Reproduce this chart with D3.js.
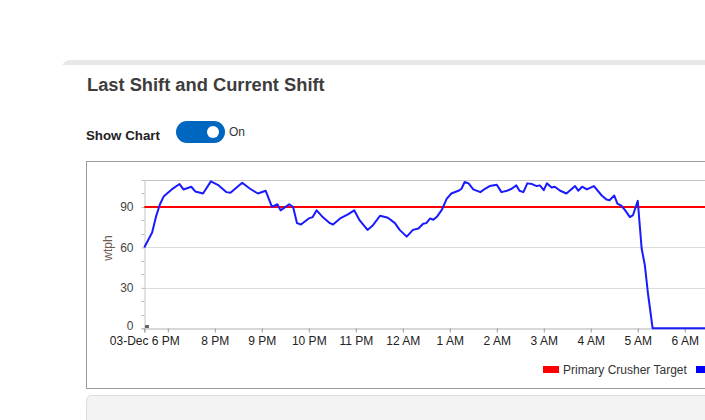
<!DOCTYPE html>
<html>
<head>
<meta charset="utf-8">
<script src="https://cdnjs.cloudflare.com/ajax/libs/d3/7.8.5/d3.min.js"></script>
<style>
  body { margin: 0; background: #fff; overflow: hidden; }
  svg { display: block; }
</style>
</head>
<body>
<div id="chart"></div>
<script>
// data (times on 03-Dec evening -> 04-Dec morning)
var times = ["18:30","18:40","18:45","18:50","18:55","19:05","19:15","19:20","19:30","19:35",
  "19:45","19:55","20:05","20:15","20:20","20:35","20:45","20:55","21:05","21:13",
  "21:20","21:24","21:35","21:40","21:45","21:50","22:00","22:05","22:10","22:17",
  "22:27","22:31","22:40","22:50","22:58","23:05","23:15","23:22","23:31","23:41",
  "23:50","23:56","00:05","00:13","00:20","00:26","00:30","00:35","00:39","00:44",
  "00:50","00:56","01:02","01:11","01:15","01:19","01:24","01:30","01:39","01:45",
  "01:51","02:00","02:06","02:13","02:19","02:25","02:29","02:34","02:39","02:45",
  "02:51","02:55","03:00","03:04","03:10","03:14","03:21","03:29","03:40","03:44",
  "03:49","03:55","04:04","04:14","04:20","04:24","04:30","04:34","04:39","04:44",
  "04:50","04:54","05:00","05:05","05:09","05:13","05:19","06:45"];
var wtph = [60,71,83,92,98,103,107,103,105,101.5,
  100,109,106,101,100.5,108,103.5,100,102,90,
  92,87.5,92,90,78,77,81.5,82.5,87.5,83,
  78,77,81.5,84.5,87.5,80,73,76.5,83.5,82,
  78,73,68,73,74,77.5,78,81.5,80.5,83,
  88,96,100,102,103.5,108.5,107.5,103,101,103.5,
  105.5,106.5,101,102,103.5,106,102,101,107.5,107,
  105.5,106,102.5,107.5,104.5,105,102,100,105.5,102,
  105,103,105.5,98.5,95.5,95,98.5,92.5,91,87.5,
  82.5,84,94.5,59,47,26,0,0];
var target = 90;

var yTicks = [0, 30, 60, 90];
var yMinor = [10, 20, 40, 50, 70, 80, 100];
var xTickTimes = ["18:30","19:00","20:00","21:00","22:00","23:00","00:00","01:00","02:00","03:00","04:00","05:00","06:00"];
var xTickLabels = ["03-Dec 6 PM","","8 PM","9 PM","10 PM","11 PM","12 AM","1 AM","2 AM","3 AM","4 AM","5 AM","6 AM"];

var parse = d3.timeParse("%Y-%m-%d %H:%M");
function toDate(s) {
  var h = +s.split(":")[0];
  return parse((h < 12 ? "2023-12-04 " : "2023-12-03 ") + s);
}

var svg = d3.select("#chart").append("svg")
  .attr("width", 705)
  .attr("height", 420);

var font = "'Liberation Sans', Arial, sans-serif";

// card
svg.append("rect").attr("x", 62).attr("y", 60).attr("width", 720).attr("height", 420)
  .attr("rx", 8).style("fill", "#e8e8e8");
svg.append("rect").attr("x", 62).attr("y", 65).attr("width", 720).attr("height", 420)
  .style("fill", "#fff");

svg.append("text").attr("x", 87).attr("y", 91)
  .style("font-family", font).style("font-size", "18.3px").style("font-weight", "bold")
  .style("fill", "#3d3d3d").text("Last Shift and Current Shift");

svg.append("text").attr("x", 86).attr("y", 140)
  .style("font-family", font).style("font-size", "13.3px").style("font-weight", "bold")
  .style("fill", "#222").text("Show Chart");

// toggle
svg.append("rect").attr("x", 176).attr("y", 121).attr("width", 49).attr("height", 22)
  .attr("rx", 11).style("fill", "#0067c0");
svg.append("circle").attr("cx", 213).attr("cy", 132).attr("r", 6).style("fill", "#fff");
svg.append("text").attr("x", 229).attr("y", 136)
  .style("font-family", font).style("font-size", "12px").style("fill", "#333").text("On");

// chart box
svg.append("rect").attr("x", 86.5).attr("y", 161.5).attr("width", 700).attr("height", 227)
  .style("fill", "#fff").style("stroke", "#9a9a9a");

// lower panel
svg.append("rect").attr("x", 86.5).attr("y", 395.5).attr("width", 700).attr("height", 60)
  .attr("rx", 5).style("fill", "#f3f3f3").style("stroke", "#ddd");

var x = d3.scaleTime()
  .domain([toDate("18:30"), toDate("06:45")])
  .range([144.3, 720]);
var y = d3.scaleLinear().domain([0, 110]).range([328.3, 180]);

var g = svg.append("g");

// grid
g.selectAll(".grid").data(yTicks.slice(1)).enter().append("line")
  .attr("x1", 144.3).attr("x2", 720)
  .attr("y1", function(d) { return Math.round(y(d)) + 0.5; })
  .attr("y2", function(d) { return Math.round(y(d)) + 0.5; })
  .style("stroke", "#dcdcdc");
g.append("line").attr("x1", 144.3).attr("x2", 720)
  .attr("y1", 180.5).attr("y2", 180.5).style("stroke", "#c4c4c4");

// y axis
var yAxis = g.append("g").attr("transform", "translate(144.5,0)")
  .call(d3.axisLeft(y).tickValues(yTicks).tickSize(3).tickPadding(8));
yAxis.select(".domain").style("stroke", "#c4c4c4");
yAxis.selectAll(".tick line").style("stroke", "#bbb");
yAxis.selectAll("text").style("font-family", font).style("font-size", "12px").style("fill", "#444");
yAxis.selectAll(".tick text").filter(function(d) { return d === 0; }).attr("dy", "0.1em");
g.selectAll(".minor").data(yMinor).enter().append("line")
  .attr("x1", 141.5).attr("x2", 144.5)
  .attr("y1", function(d) { return Math.round(y(d)) + 0.5; })
  .attr("y2", function(d) { return Math.round(y(d)) + 0.5; })
  .style("stroke", "#bbb");

// x axis
var xAxis = g.append("g").attr("transform", "translate(0,328.5)")
  .call(d3.axisBottom(x).tickValues(xTickTimes.map(toDate)).tickSize(4).tickPadding(4)
    .tickFormat(function(d, i) { return xTickLabels[i]; }));
xAxis.select(".domain").style("stroke", "#b0b0b0");
xAxis.selectAll(".tick line").style("stroke", "#999");
xAxis.selectAll("text").style("font-family", font).style("font-size", "12px").style("fill", "#222");

svg.append("text")
  .attr("transform", "translate(112,248)rotate(-90)")
  .attr("text-anchor", "middle")
  .style("font-family", font).style("font-size", "12px").style("fill", "#6e5a4e")
  .text("wtph");

svg.append("rect").attr("x", 145).attr("y", 325).attr("width", 4).attr("height", 3).style("fill", "#666");

// target line
g.append("line").attr("x1", 144.3).attr("x2", 720)
  .attr("y1", y(target)).attr("y2", y(target))
  .style("stroke", "#ff0000").style("stroke-width", 2);

// series
var line = d3.line()
  .x(function(d) { return x(d[0]); })
  .y(function(d) { return y(d[1]); });
g.append("path")
  .datum(times.map(function(t, i) { return [toDate(t), wtph[i]]; }))
  .attr("d", line)
  .style("fill", "none").style("stroke", "#1a1aff").style("stroke-width", 2)
  .style("stroke-linejoin", "round");

// legend
svg.append("rect").attr("x", 543).attr("y", 366).attr("width", 16).attr("height", 7).style("fill", "#ff0000");
svg.append("text").attr("x", 563).attr("y", 373.5)
  .style("font-family", font).style("font-size", "12px").style("fill", "#333")
  .text("Primary Crusher Target");
svg.append("rect").attr("x", 696).attr("y", 366).attr("width", 16).attr("height", 7).style("fill", "#0000ff");
</script>
</body>
</html>
